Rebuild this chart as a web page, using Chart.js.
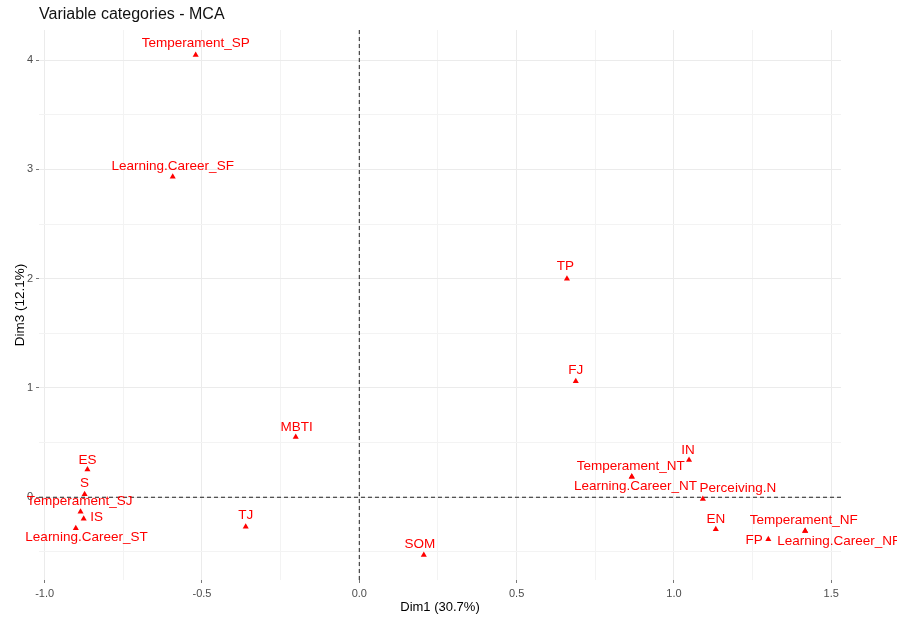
<!DOCTYPE html>
<html>
<head>
<meta charset="utf-8">
<script src="https://cdn.jsdelivr.net/npm/chart.js@4.4.1/dist/chart.umd.min.js"></script>
<style>
    body { margin: 0; background: #fff; }
</style>
</head>
<body>
<canvas id="chartMca" width="897" height="617"></canvas>
<script>
var categories = ["Temperament_SP", "Learning.Career_SF", "TP", "FJ", "MBTI", "ES", "S", "Temperament_SJ", "IS", "Learning.Career_ST",
    "TJ", "SOM", "IN", "Temperament_NT", "Learning.Career_NT", "Perceiving.N", "EN", "Temperament_NF", "FP", "Learning.Career_NF"];
var dim1 = [-0.520, -0.593, 0.660, 0.688, -0.202, -0.864, -0.873, -0.886, -0.876, -0.901,
    -0.361, 0.205, 1.048, 0.866, 0.866, 1.092, 1.133, 1.417, 1.300, 1.417];
var dim3 = [4.047, 2.933, 2.000, 1.061, 0.552, 0.253, 0.027, -0.132, -0.196, -0.284,
    -0.269, -0.528, 0.341, 0.188, 0.188, -0.016, -0.293, -0.308, -0.384, -0.308];

var xTickLabels = [-1.0, -0.5, 0.0, 0.5, 1.0, 1.5];
var xMinorGrid = [-0.75, -0.25, 0.25, 0.75, 1.25];
var yTickLabels = [0, 1, 2, 3, 4];
var yMinorGrid = [-0.5, 0.5, 1.5, 2.5, 3.5];

// label placement (px from the point), like ggrepel put them
var labelShift = [[0, -11.5], [0, -10], [-1.5, -12], [0, -11], [1, -10], [0, -9.7], [0, -11], [-1, -10], [13, -1.5], [10.7, 9.4],
    [0, -11], [-4, -10.3], [-1, -10], [-1, -10.7], [3.7, 9.3], [35, -10.7], [0, -10], [-1.3, -11], [-14.3, 0.7], [33.7, 10]];

var points = [];
for (var i = 0; i < categories.length; i++) {
    points.push({ x: dim1[i], y: dim3[i] });
}

function allTicks(major, minor) {
    return major.concat(minor).sort(function (a, b) { return a - b; }).map(function (v) { return { value: v }; });
}
function isMajor(list, v) {
    return list.some(function (t) { return Math.abs(t - v) < 1e-9; });
}

var mcaPlugin = {
    id: 'mcaExtras',
    beforeDatasetsDraw: function (chart) {
        var ctx = chart.ctx, area = chart.chartArea;
        var x0 = chart.scales.x.getPixelForValue(0);
        var y0 = chart.scales.y.getPixelForValue(0);
        ctx.save();
        ctx.strokeStyle = '#222222';
        ctx.lineWidth = 1;
        ctx.setLineDash([4, 3]);
        ctx.beginPath();
        ctx.moveTo(x0, area.top);
        ctx.lineTo(x0, area.bottom);
        ctx.moveTo(area.left, y0);
        ctx.lineTo(area.right, y0);
        ctx.stroke();
        ctx.restore();
    },
    afterDatasetsDraw: function (chart) {
        var ctx = chart.ctx;
        var meta = chart.getDatasetMeta(0);
        ctx.save();
        ctx.font = '13.5px "Liberation Sans", Arial, sans-serif';
        ctx.fillStyle = '#FF0000';
        ctx.textAlign = 'center';
        ctx.textBaseline = 'middle';
        meta.data.forEach(function (pt, i) {
            ctx.fillText(categories[i], pt.x + labelShift[i][0], pt.y + labelShift[i][1]);
        });
        // title, left aligned to the panel
        ctx.font = '16px "Liberation Sans", Arial, sans-serif';
        ctx.fillStyle = '#111111';
        ctx.textAlign = 'left';
        ctx.fillText('Variable categories - MCA', chart.chartArea.left, 15);
        ctx.restore();
    }
};

var mcaChart = new Chart(document.getElementById('chartMca'), {
    type: 'scatter',
    data: {
        datasets: [
            {
                label: 'Variable categories',
                data: points,
                pointStyle: 'triangle',
                pointRadius: 3.5,
                pointBorderWidth: 0,
                backgroundColor: '#FF0000',
                borderColor: '#FF0000'
            }
        ]
    },
    options: {
        responsive: false,
        animation: false,
        layout: {
            padding: { top: 30, right: 56, bottom: 0, left: 0 }
        },
        plugins: {
            legend: { display: false },
            tooltip: { enabled: false }
        },
        scales: {
            x: {
                type: 'linear',
                min: -1.018,
                max: 1.531,
                border: { display: false },
                afterFit: function (scale) { scale.height = 37; },
                afterBuildTicks: function (scale) { scale.ticks = allTicks(xTickLabels, xMinorGrid); },
                grid: {
                    color: function (c) { return isMajor(xTickLabels, c.tick.value) ? '#EBEBEB' : '#F3F3F3'; },
                    tickColor: function (c) { return isMajor(xTickLabels, c.tick.value) ? '#777777' : 'rgba(0,0,0,0)'; },
                    tickLength: 3
                },
                ticks: {
                    autoSkip: false,
                    maxRotation: 0,
                    padding: 4,
                    color: '#4D4D4D',
                    font: { family: '"Liberation Sans", Arial, sans-serif', size: 11 },
                    callback: function (v) { return isMajor(xTickLabels, v) ? v.toFixed(1) : ''; }
                },
                title: {
                    display: true,
                    text: 'Dim1 (30.7%)',
                    color: '#000000',
                    padding: { top: 0, bottom: 2 },
                    font: { family: '"Liberation Sans", Arial, sans-serif', size: 13 }
                }
            },
            y: {
                type: 'linear',
                min: -0.757,
                max: 4.275,
                border: { display: false },
                afterFit: function (scale) { scale.width = 39; },
                afterBuildTicks: function (scale) { scale.ticks = allTicks(yTickLabels, yMinorGrid); },
                grid: {
                    color: function (c) { return isMajor(yTickLabels, c.tick.value) ? '#EBEBEB' : '#F3F3F3'; },
                    tickColor: function (c) { return isMajor(yTickLabels, c.tick.value) ? '#777777' : 'rgba(0,0,0,0)'; },
                    tickLength: 3
                },
                ticks: {
                    autoSkip: false,
                    padding: 3,
                    color: '#4D4D4D',
                    font: { family: '"Liberation Sans", Arial, sans-serif', size: 11 },
                    callback: function (v) { return isMajor(yTickLabels, v) ? String(Math.round(v)) : ''; }
                },
                title: {
                    display: true,
                    text: 'Dim3 (12.1%)',
                    color: '#000000',
                    padding: { top: 12, bottom: 0 },
                    font: { family: '"Liberation Sans", Arial, sans-serif', size: 13.5 }
                }
            }
        }
    },
    plugins: [mcaPlugin]
});
</script>
</body>
</html>
